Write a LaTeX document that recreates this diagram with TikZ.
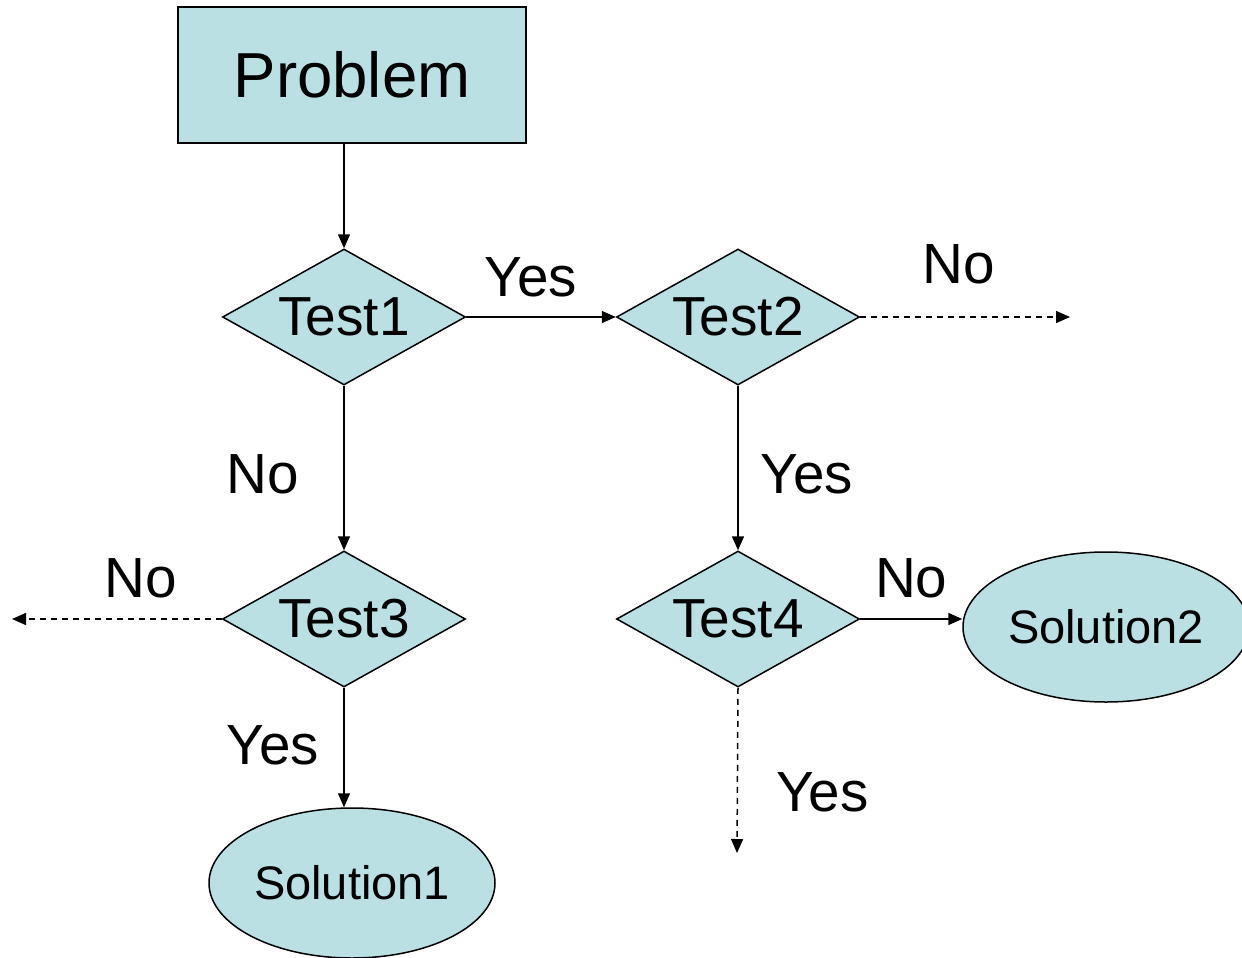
\documentclass[tikz,border=0pt]{standalone}
\usepackage{fontspec}
\setmainfont{Liberation Sans}
\usetikzlibrary{shapes.geometric,arrows.meta}
\definecolor{boxfill}{RGB}{186,224,228}

\begin{document}
\begin{tikzpicture}[
  x=0.5pt, y=-0.5pt,
  every path/.style={line width=0.75pt},
  problembox/.style={draw, line width=1pt, fill=boxfill, rectangle,
    minimum width=174pt, minimum height=68pt, inner sep=0pt, font=\fontsize{31.8}{36}\selectfont},
  testbox/.style={draw, fill=boxfill, diamond, aspect=1.79,
    minimum width=121.5pt, minimum height=68pt, inner sep=0pt, font=\fontsize{27.5}{32}\selectfont},
  solutionbox/.style={draw, fill=boxfill, ellipse,
    minimum width=143pt, minimum height=75pt, inner sep=0pt, font=\fontsize{23.5}{28}\selectfont},
  flow/.style={draw, -{Triangle[length=7pt,width=6pt]}},
  openflow/.style={flow, dash pattern=on 3pt off 2.5pt},
  answer/.style={inner sep=0pt, font=\fontsize{28.3}{33}\selectfont}
]
\useasboundingbox (0,0) rectangle (1242,958);

\node[problembox] (problem) at (352,75) {Problem};
\node[testbox] (test1) at (344,317) {Test1};
\node[testbox] (test2) at (738,317) {Test2};
\node[testbox] (test3) at (344,619) {Test3};
\node[testbox] (test4) at (738,619) {Test4};
\node[solutionbox] (sol1) at (352,883) {Solution1};
\node[solutionbox] (sol2) at (1106,627) {Solution2};

\coordinate (out2) at (1070,317);
\coordinate (out3) at (12,619);
\coordinate (out4) at (737,853);

\draw[flow] (problem.south -| test1.north) -- (test1.north);
\draw[flow] (test1.east) -- node[answer, above=9.5pt, xshift=-5pt] (yes1) {Yes} (test2.west);
\draw[openflow] (test2.east) -- node[answer, above=16pt, xshift=-3pt] (no2) {No} (out2);
\draw[flow] (test1.south) -- node[answer, left=22pt, yshift=-3pt] (no1) {No} (test3.north);
\draw[flow] (test2.south) -- node[answer, right=11pt, yshift=-3pt] (yes2) {Yes} (test4.north);
\draw[openflow] (test3.west) -- node[answer, above=10pt, xshift=12pt] (no3) {No} (out3);
\draw[flow] (test3.south) -- node[answer, left=12pt, yshift=1pt] (yes3) {Yes} (test3.south |- sol1.north);
\draw[flow] (test4.east) -- node[answer, above=10pt] (no4) {No} (sol2.west |- test4.east);
\draw[openflow] (test4.south) -- node[answer, right=19pt, yshift=-11pt] (yes4) {Yes} (out4);
\end{tikzpicture}
\end{document}
